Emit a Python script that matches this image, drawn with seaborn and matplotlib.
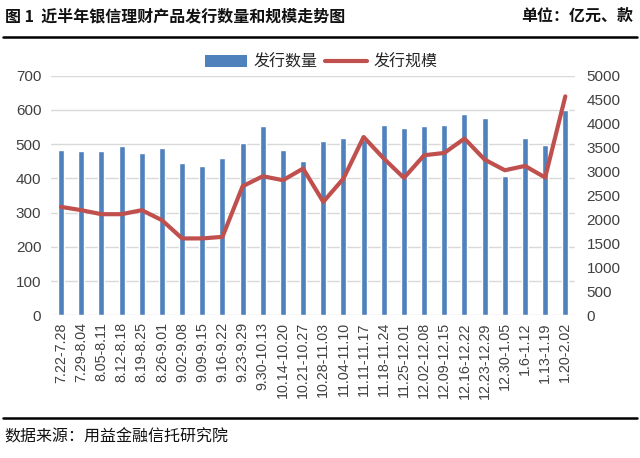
import matplotlib
matplotlib.use("Agg")
import matplotlib.pyplot as plt
import seaborn as sns
import numpy as np
import pandas as pd
from matplotlib.patches import Patch
from matplotlib.lines import Line2D

categories = ["7.22-7.28", "7.29-8.04", "8.05-8.11", "8.12-8.18", "8.19-8.25", "8.26-9.01",
              "9.02-9.08", "9.09-9.15", "9.16-9.22", "9.23-9.29", "9.30-10.13", "10.14-10.20",
              "10.21-10.27", "10.28-11.03", "11.04-11.10", "11.11-11.17", "11.18-11.24",
              "11.25-12.01", "12.02-12.08", "12.09-12.15", "12.16-12.22", "12.23-12.29",
              "12.30-1.05", "1.6-1.12", "1.13-1.19", "1.20-2.02"]
count_values = [484, 481, 481, 495, 474, 488, 444, 436, 460, 504, 552, 483, 450, 510,
                518, 512, 557, 547, 552, 557, 588, 575, 408, 518, 497, 600]
scale_values = [2262, 2194, 2110, 2110, 2194, 1985, 1604, 1604, 1637, 2693, 2902, 2819,
                3062, 2367, 2854, 3721, 3271, 2867, 3340, 3388, 3688, 3250, 3027, 3117,
                2875, 4569]
left_ticks = [0, 100, 200, 300, 400, 500, 600, 700]
right_ticks = [0, 500, 1000, 1500, 2000, 2500, 3000, 3500, 4000, 4500, 5000]
series_names = ["发行数量", "发行规模"]

sns.set_theme(style="white")
plt.rcParams['font.family'] = ['Liberation Sans', 'Noto Sans CJK SC', 'DejaVu Sans']

df = pd.DataFrame({"week": categories, "count": count_values, "scale": scale_values})

bar_color = "#4F81BD"
line_color = "#C0504D"
tick_color = "#404040"

fig = plt.figure(figsize=(6.4, 4.58), dpi=100)
ax = fig.add_axes([51 / 640, 1 - 315.3 / 458, (575.4 - 51) / 640, (315.3 - 75.7) / 458])

sns.barplot(data=df, x="week", y="count", color=bar_color, width=0.3, ax=ax,
            saturation=1, zorder=3)
ax.set_ylim(0, 700)
ax.set_yticks(left_ticks)
ax.set_xlim(-0.5, len(categories) - 0.5)
ax.yaxis.grid(True, color="#D9D9D9", linewidth=1, zorder=0)
ax.set_axisbelow(True)
ax.set_xlabel("")
ax.set_ylabel("")
for s in ax.spines.values():
    s.set_visible(False)
ax.tick_params(axis="y", length=0, pad=7, labelsize=11, labelcolor=tick_color)
ax.tick_params(axis="x", length=0, pad=5, labelsize=10.3, labelcolor=tick_color)
ax.set_xticks(range(len(categories)))
ax.set_xticklabels(categories, rotation=90, va="top", ha="center")

ax2 = ax.twinx()
sns.lineplot(x=np.arange(len(categories)), y=df["scale"], color=line_color, linewidth=3,
             ax=ax2)
ax2.set_ylim(0, 5000)
ax2.set_yticks(right_ticks)
ax2.set_ylabel("")
for s in ax2.spines.values():
    s.set_visible(False)
ax2.tick_params(axis="y", length=0, pad=8, labelsize=11, labelcolor=tick_color)
ax2.grid(False)
ax2.set_xlim(-0.5, len(categories) - 0.5)

handles = [Patch(facecolor=bar_color, edgecolor="none"),
           Line2D([0], [0], color=line_color, linewidth=3)]
fig.legend(handles, series_names, loc="center", bbox_to_anchor=(0.502, 1 - 62 / 458),
           ncol=2, frameon=False, fontsize=11.5, handlelength=2.6, handleheight=0.8,
           columnspacing=0.5, handletextpad=0.4, prop={'family': ['Noto Sans CJK SC'], 'size': 11.5})

fig.text(5 / 640, 1 - 16 / 458, "图 1  近半年银信理财产品发行数量和规模走势图", ha="left", va="center",
         fontsize=11.5, fontweight="bold", family=['Noto Sans CJK SC'], color="#111111")
fig.text(633 / 640, 1 - 16 / 458, "单位：亿元、款", ha="right", va="center",
         fontsize=11.5, fontweight="bold", family=['Noto Sans CJK SC'], color="#111111")
fig.add_artist(Line2D([3 / 640, 637 / 640], [1 - 37 / 458, 1 - 37 / 458], color="black",
                      linewidth=1.8, transform=fig.transFigure))
fig.add_artist(Line2D([3 / 640, 637 / 640], [1 - 418 / 458, 1 - 418 / 458], color="black",
                      linewidth=1.8, transform=fig.transFigure))
fig.text(4 / 640, 1 - 437 / 458, "数据来源：用益金融信托研究院", ha="left", va="center",
         fontsize=11.5, family=['Noto Sans CJK SC'], color="#111111")

fig.savefig("out.png", dpi=100, facecolor="white")
